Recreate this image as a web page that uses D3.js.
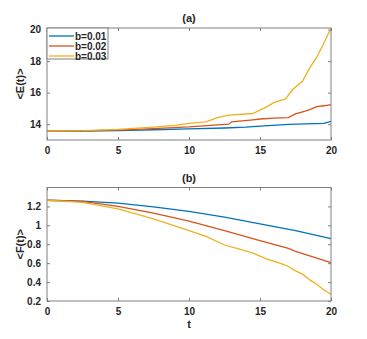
<html>
<head>
<script src="https://d3js.org/d3.v7.min.js"></script>
<style>
  body { margin: 0; background: #fff; }
  text { font-family: "Liberation Sans", Arial, sans-serif; font-weight: bold; fill: #262626; }
</style>
</head>
<body>
<svg id="chart" width="367" height="339"></svg>
<script>
// series
const seriesNames = ['b=0.01', 'b=0.02', 'b=0.03']
const colors = ['#0072BD', '#D95319', '#EDB120']

const tE1 = [0, 2.5, 5, 7.5, 10, 12.5, 14, 15, 17, 19.5, 20]
const E1 = [13.56, 13.57, 13.6, 13.65, 13.7, 13.76, 13.81, 13.88, 13.99, 14.06, 14.18]

const tE2 = [0, 2.5, 5, 7.5, 10, 11, 12.8, 13, 14.5, 15, 16, 17, 17.5, 18, 18.5, 19, 19.5, 20]
const E2 = [13.56, 13.58, 13.63, 13.72, 13.83, 13.9, 14.0, 14.15, 14.28, 14.33, 14.39, 14.42, 14.65, 14.79, 14.92, 15.12, 15.17, 15.24]

const tE3 = [0, 2.5, 5, 7.5, 9, 10, 11.2, 12, 12.8, 14.5, 15.5, 16, 16.8, 17.3, 18, 18.5, 19, 19.5, 20]
const E3 = [13.56, 13.59, 13.67, 13.82, 13.93, 14.06, 14.15, 14.42, 14.58, 14.68, 15.12, 15.38, 15.6, 16.2, 16.74, 17.57, 18.25, 19.15, 20.08]

const tF1 = [0, 2.5, 5, 7.5, 10, 12.5, 15, 17.5, 20]
const F1 = [1.265, 1.257, 1.235, 1.196, 1.147, 1.087, 1.016, 0.945, 0.86]

const tF2 = [0, 2.5, 5, 7.5, 10, 12.5, 15, 17, 17.5, 20]
const F2 = [1.265, 1.253, 1.2, 1.129, 1.044, 0.945, 0.838, 0.757, 0.725, 0.607]

const tF3 = [0, 2.5, 5, 7.5, 10, 11.2, 12.5, 13.5, 14.5, 15.5, 16.5, 17, 17.5, 18, 18.5, 19, 19.5, 20]
const F3 = [1.265, 1.243, 1.175, 1.069, 0.945, 0.884, 0.792, 0.75, 0.707, 0.643, 0.594, 0.565, 0.519, 0.484, 0.423, 0.377, 0.317, 0.271]

const xTicks = [0, 5, 10, 15, 20]
const eTicks = [14, 16, 18, 20]
const fTicks = [0.2, 0.4, 0.6, 0.8, 1, 1.2]

const svg = d3.select('svg#chart')
const left = 47, right = 331

function panel(top, bottom, yDomain, yTicks, yFmt, title, ylabel, series, showLegend, xlabel) {
    const x = d3.scaleLinear().domain([0, 20]).range([left, right])
    const y = d3.scaleLinear().domain(yDomain).range([bottom, top])
    const g = svg.append('g')

    // axes with mirrored inner ticks
    const axisStyle = sel => {
        sel.select('.domain').remove()
        sel.selectAll('line').attr('stroke', '#262626').attr('stroke-width', 0.6)
        sel.selectAll('text').style('font-size', '10px').attr('fill', '#262626')
    }
    g.append('g').attr('transform', `translate(0,${bottom})`)
        .call(d3.axisBottom(x).tickValues(xTicks).tickSize(-3).tickPadding(7)).call(axisStyle)
    g.append('g').attr('transform', `translate(0,${top})`)
        .call(d3.axisTop(x).tickValues(xTicks).tickSize(-3).tickFormat('')).call(axisStyle)
    g.append('g').attr('transform', `translate(${left},0)`)
        .call(d3.axisLeft(y).tickValues(yTicks).tickSize(-3).tickPadding(6).tickFormat(yFmt)).call(axisStyle)
    g.append('g').attr('transform', `translate(${right},0)`)
        .call(d3.axisRight(y).tickValues(yTicks).tickSize(-3).tickFormat('')).call(axisStyle)

    const line = d3.line().x(d => x(d[0])).y(d => y(d[1]))
    series.forEach((s, i) => {
        g.append('path')
            .datum(s[0].map((t, k) => [t, s[1][k]]))
            .attr('d', line)
            .attr('fill', 'none')
            .attr('stroke', colors[i])
            .attr('stroke-width', 1.3)
    })

    g.append('rect')
        .attr('x', left).attr('y', top)
        .attr('width', right - left).attr('height', bottom - top)
        .attr('fill', 'none').attr('stroke', '#808080').attr('stroke-width', 1)

    g.append('text').attr('x', (left + right) / 2).attr('y', top - 6)
        .attr('text-anchor', 'middle').style('font-size', '11px').text(title)

    g.append('text')
        .attr('transform', `translate(24,${(top + bottom) / 2}) rotate(-90)`)
        .attr('text-anchor', 'middle').style('font-size', '11px').text(ylabel)

    if (xlabel) {
        g.append('text').attr('x', (left + right) / 2).attr('y', bottom + 27)
            .attr('text-anchor', 'middle').style('font-size', '11px').text(xlabel)
    }

    if (showLegend) {
        const lg = g.append('g')
        lg.append('rect').attr('x', left).attr('y', top).attr('width', 61).attr('height', 31)
            .attr('fill', '#fff').attr('stroke', '#808080').attr('stroke-width', 1)
        seriesNames.forEach((n, i) => {
            const yy = top + 8 + i * 10
            lg.append('line').attr('x1', left + 2).attr('x2', left + 27)
                .attr('y1', yy).attr('y2', yy)
                .attr('stroke', colors[i]).attr('stroke-width', 1.3)
            lg.append('text').attr('x', left + 28).attr('y', yy + 3.5)
                .style('font-size', '10px').text(n)
        })
    }
}

panel(28, 140, [13, 20.1], eTicks, d3.format('d'), '(a)', '<E(t)>',
      [[tE1, E1], [tE2, E2], [tE3, E3]], true, null)
panel(187.5, 301, [0.2, 1.4], fTicks, d => d === 1 ? '1' : d3.format('.1f')(d), '(b)', '<F(t)>',
      [[tF1, F1], [tF2, F2], [tF3, F3]], false, 't')
</script>
</body>
</html>
